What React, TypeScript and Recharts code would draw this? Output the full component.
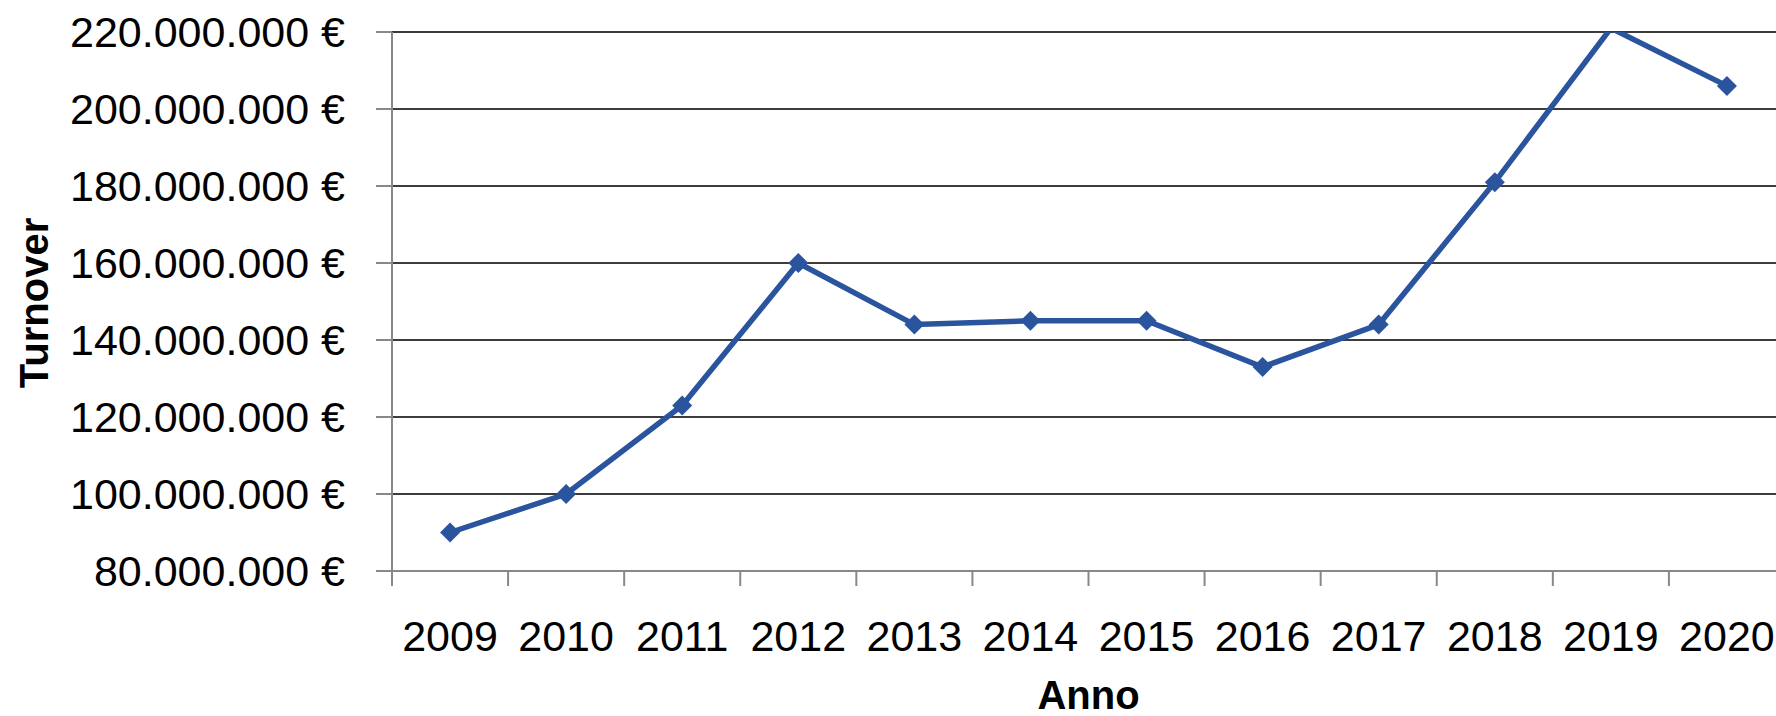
import React from "react";
import {
  LineChart,
  Line,
  XAxis,
  YAxis,
  CartesianGrid,
} from "recharts";

const years = ["2009", "2010", "2011", "2012", "2013", "2014", "2015", "2016", "2017", "2018", "2019", "2020"];
const turnover = [90e6, 100e6, 123e6, 160e6, 144e6, 145e6, 145e6, 133e6, 144e6, 181e6, 221e6, 206e6];
const yTicks = [80e6, 100e6, 120e6, 140e6, 160e6, 180e6, 200e6, 220e6];

const data = years.map((year, i) => ({ year, value: turnover[i] }));

const CHART_W = 1790;
const CHART_H = 716;
const Y_AXIS_W = 392;
const MARGIN = { top: 32, right: 5, bottom: 0, left: 0 };
const PLOT_W = CHART_W - Y_AXIS_W - MARGIN.left - MARGIN.right;
const BAND = PLOT_W / years.length;
const Y_MAX = yTicks[yTicks.length - 1];

const FONT = "'Liberation Sans', Arial, sans-serif";
const LINE_COLOR = "#2A549D";
const AXIS_COLOR = "#888888";

// formato italiano: 220.000.000 €
const formatEuro = (v: number) =>
  String(Math.round(v)).replace(/\B(?=(\d{3})+(?!\d))/g, ".") + " €";

// tacche tra le categorie, come in Excel
const XTick = (props: any) => {
  const { x, y, payload } = props;
  const bx = x - BAND / 2;
  return (
    <g>
      <line x1={bx} x2={bx} y1={y - 15} y2={y} stroke={AXIS_COLOR} strokeWidth={2} />
      <text x={x} y={y + 65} textAnchor="middle" fontFamily={FONT} fontSize={43} fill="#000">
        {payload.value}
      </text>
    </g>
  );
};

const Diamond = (props: any) => {
  const { cx, cy, payload } = props;
  if (payload.value > Y_MAX || cx == null || cy == null) return <g />;
  const r = 10;
  return (
    <path
      d={`M${cx},${cy - r} L${cx + r},${cy} L${cx},${cy + r} L${cx - r},${cy} Z`}
      fill={LINE_COLOR}
    />
  );
};

export default function App() {
  const plotCenter = Y_AXIS_W + PLOT_W / 2;
  return (
    <div
      style={{
        position: "absolute",
        left: 0,
        top: 0,
        width: 1776,
        height: 716,
        overflow: "hidden",
        background: "#fff",
      }}
    >
      <LineChart width={CHART_W} height={CHART_H} data={data} margin={MARGIN}>
        <CartesianGrid vertical={false} stroke="#3c3c3c" strokeWidth={2} />
        <XAxis
          dataKey="year"
          height={145}
          padding={{ left: BAND / 2, right: BAND / 2 }}
          axisLine={{ stroke: AXIS_COLOR, strokeWidth: 2 }}
          tickLine={false}
          tickSize={15}
          tickMargin={0}
          interval={0}
          tick={<XTick />}
          label={{
            content: () => (
              <text
                x={plotCenter}
                y={709}
                textAnchor="middle"
                fontFamily={FONT}
                fontSize={40}
                fontWeight="bold"
                fill="#000"
              >
                Anno
              </text>
            ),
          }}
        />
        <YAxis
          width={Y_AXIS_W}
          domain={[yTicks[0], Y_MAX]}
          ticks={yTicks}
          allowDataOverflow
          interval={0}
          tickFormatter={formatEuro}
          axisLine={{ stroke: AXIS_COLOR, strokeWidth: 2 }}
          tickLine={{ stroke: AXIS_COLOR, strokeWidth: 2 }}
          tickSize={16}
          tickMargin={31}
          tick={{ fontFamily: FONT, fontSize: 43, fill: "#000" }}
          label={{
            content: () => (
              <text
                x={34}
                y={303}
                transform="rotate(-90 34 303)"
                textAnchor="middle"
                dominantBaseline="central"
                fontFamily={FONT}
                fontSize={40}
                fontWeight="bold"
                fill="#000"
              >
                Turnover
              </text>
            ),
          }}
        />
        <Line
          type="linear"
          dataKey="value"
          stroke={LINE_COLOR}
          strokeWidth={5.5}
          dot={<Diamond />}
          activeDot={false}
          isAnimationActive={false}
        />
      </LineChart>
    </div>
  );
}
